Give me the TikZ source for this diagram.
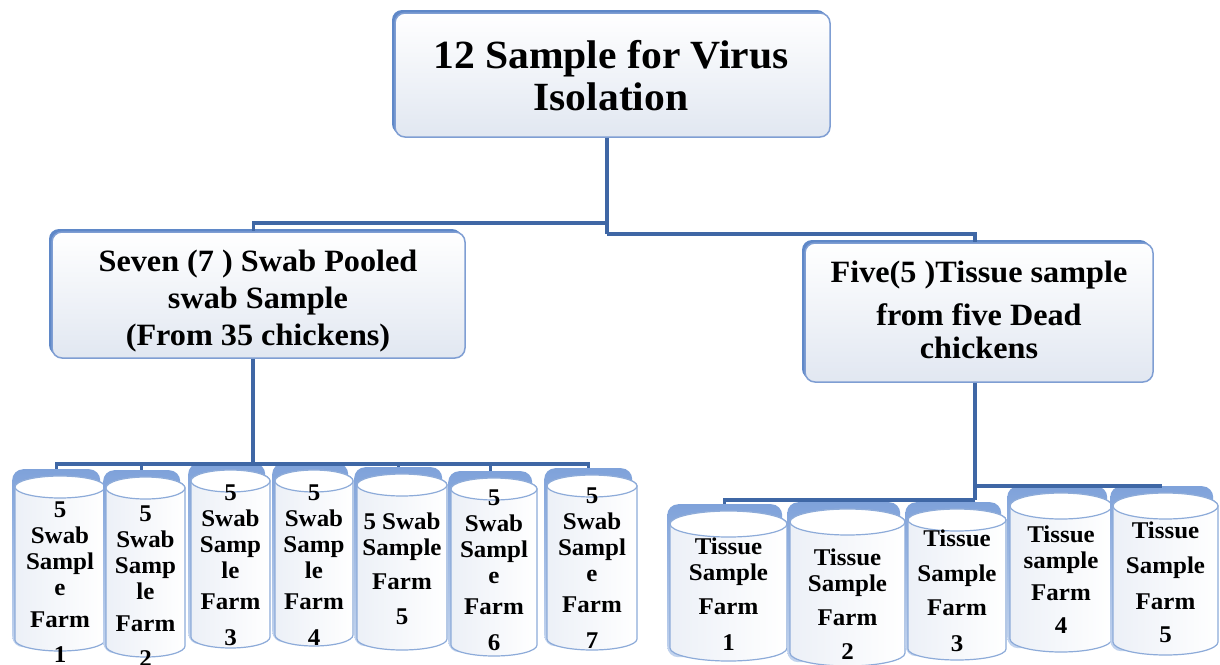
\documentclass[tikz,border=0pt]{standalone}
\usepackage{fontspec}
\setmainfont{Liberation Serif}[FakeStretch=1.04]
\usetikzlibrary{shadows}
\definecolor{conn}{HTML}{3F67A5}
\definecolor{boxline}{HTML}{7F9ED3}
\definecolor{boxshadow}{HTML}{5F88C8}
\definecolor{boxbottom}{HTML}{E1E7F1}
\definecolor{cylline}{HTML}{8DABD9}
\definecolor{cylshtop}{HTML}{7FA2DA}
\definecolor{cylshbot}{HTML}{C3D4EE}
\definecolor{cylbodyl}{HTML}{ECF0F7}
\tikzset{
  connector/.style={draw=conn, line width=3.3pt},
  mainbox/.style={rounded corners=10pt, draw=boxline, line width=1.5pt,
    top color=white, bottom color=boxbottom,
    drop shadow={shadow xshift=-3pt, shadow yshift=3pt, fill=boxshadow, opacity=1},
    inner sep=0pt},
  boxtext/.style={align=center, inner sep=0pt},
  cylshadow/.style={rounded corners=11pt, top color=cylshtop, bottom color=cylshbot, draw=none, inner sep=0pt},
  cylbody/.style={draw=cylline, line width=1.2pt, left color=cylbodyl, right color=white},
  cylrim/.style={draw=cylline, line width=1.2pt, fill=white},
  cyltext/.style={anchor=north, align=center, inner sep=0pt, font=\fontsize{24}{26}\selectfont\bfseries}
}
\newcommand{\drawcyl}[8]{%
  \pgfmathsetmacro{\cylcx}{(#2+#3)/2}%
  \pgfmathsetmacro{\cylrx}{(#3-#2)/2}%
  \pgfmathsetmacro{\cylshw}{#3-#2-2}%
  \pgfmathsetmacro{\cylshh}{#5-#4+3}%
  \node[cylshadow, minimum width=\cylshw pt, minimum height=\cylshh pt, anchor=north west] (#1) at (#2-3,-#4+7) {};
  \path[cylbody] (#2,-#4-#6) -- (#2,-#5+#6) arc[start angle=180,end angle=360,x radius=\cylrx,y radius=#6] -- (#3,-#4-#6) arc[start angle=0,end angle=180,x radius=\cylrx,y radius=#6] -- cycle;
  \draw[cylrim] (\cylcx,-#4-#6) ellipse[x radius=\cylrx,y radius=#6];
  \node[cyltext] (#1t) at (\cylcx,-#7+8) {#8};
}
\begin{document}
\begin{tikzpicture}[x=1pt,y=1pt]
\useasboundingbox (0,0) rectangle (1220,-664);
\fill[white] (0,0) rectangle (1220,-664);

% main boxes
\node[mainbox, minimum width=435pt, minimum height=124pt] (top) at (612.5,-75) {};
\node[boxtext, font=\fontsize{40}{42}\selectfont\bfseries] (toptext) at (611,-76) {12 Sample for Virus\\Isolation};

\node[mainbox, minimum width=413pt, minimum height=126pt] (left) at (258.5,-295) {};
\node[boxtext, font=\fontsize{31}{37}\selectfont\bfseries] (lefttext) at (258,-301.5) {Seven (7 ) Swab Pooled\\swab Sample\\(From 35 chickens)};

\node[mainbox, minimum width=348pt, minimum height=139pt] (right) at (979,-312.5) {};
\node[boxtext, font=\fontsize{31}{35}\selectfont\bfseries] (righttext) at (979,-310) {Five(5 )Tissue sample\\[8pt]from five Dead\\[-2pt]chickens};

% cylinders (left group)
\drawcyl{c1}{15}{105}{476}{651}{11}{510}{5\\Swab\\Sampl\\e\\[6pt]Farm\\[9pt]1}
\drawcyl{c2}{106}{185}{477}{657}{11}{514}{5\\Swab\\Samp\\le\\[6pt]Farm\\[9pt]2}
\drawcyl{c3}{191}{270}{470}{648}{11}{493}{5\\Swab\\Samp\\le\\[5pt]Farm\\[10pt]3}
\drawcyl{c4}{275}{353}{470}{646}{11}{493}{5\\Swab\\Samp\\le\\[5pt]Farm\\[10pt]4}
\drawcyl{c5}{357}{447}{474}{650}{11}{521}{5 Swab\\Sample\\[8pt]Farm\\[9pt]5}
\drawcyl{c6}{451}{537}{478}{656}{11}{498}{5\\Swab\\Sampl\\e\\[5pt]Farm\\[10pt]6}
\drawcyl{c7}{547}{637}{475}{650}{11}{496}{5\\Swab\\Sampl\\e\\[5pt]Farm\\[10pt]7}

% cylinders (right group)
\drawcyl{r1}{670}{787}{511}{661}{13}{546}{Tissue\\Sample\\[8pt]Farm\\[10pt]1}
\drawcyl{r2}{790}{905}{509}{666}{13}{557}{Tissue\\Sample\\[8pt]Farm\\[8pt]2}
\drawcyl{r3}{908}{1006}{509}{660}{11}{538}{Tissue\\[9pt]Sample\\[8pt]Farm\\[10pt]3}
\drawcyl{r4}{1010}{1112}{493}{652}{13}{534}{Tissue\\sample\\[6pt]Farm\\[7pt]4}
\drawcyl{r5}{1113}{1218}{493}{655}{13}{530}{Tissue\\[9pt]Sample\\[10pt]Farm\\[7pt]5}

% connectors
\coordinate (j1) at (607,-223);
\coordinate (j2) at (607,-234);
\draw[connector] (j1 |- top.south) -- (j1) -- (j2);
\draw[connector] (j1) -| ([xshift=-5pt]left.north);
\draw[connector] (j2) -| ([xshift=-4pt]right.north);

\coordinate (lb) at (253,-464);
\draw[connector] (lb |- left.south) -- (lb);
\foreach \c in {c1,c2,c3,c4,c5,c6,c7} {\draw[connector] (lb) -| (\c.north);}

\coordinate (rb1) at (975,-486);
\coordinate (rb2) at (975,-500);
\draw[connector] (rb1 |- right.south) -- (rb2);
\foreach \c in {r4,r5} {\draw[connector] (rb1) -| (\c.north);}
\foreach \c in {r1,r2,r3} {\draw[connector] (rb2) -| (\c.north);}
\end{tikzpicture}
\end{document}
